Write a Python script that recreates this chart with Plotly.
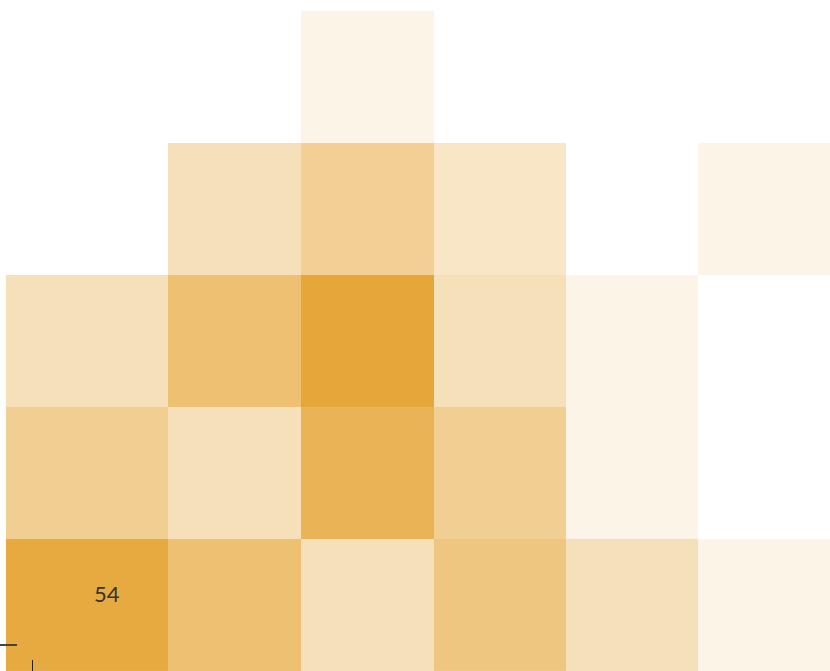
import plotly.graph_objects as go

# Bin edges of the 2-D histogram (x: columns, y: rows, bottom to top)
x_edges = [-0.2, 1.02, 2.027, 3.03, 4.02, 5.02, 6.02]
y_edges = [-0.2, 0.8, 1.8, 2.8, 3.8, 4.8]

# Counts per cell, one list per row from the bottom up; None = empty bin
row_0 = [54, 40, 20, 36, 20, 7]
row_1 = [31, 20, 48, 31, 7, None]
row_2 = [20, 40, 56, 20, 7, None]
row_3 = [None, 20, 30, 16, None, 7]
row_4 = [None, None, 7, None, None, None]
counts = [row_0, row_1, row_2, row_3, row_4]

# The one bin whose count is written on the chart
label_col, label_row = 0, 0

fig = go.Figure(
    go.Heatmap(
        x=x_edges,
        y=y_edges,
        z=counts,
        zmin=0,
        zmax=max(v for r in counts for v in r if v is not None),
        colorscale=[[0, "#ffffff"], [1, "#e6a73a"]],
        showscale=False,
        hoverongaps=False,
        hoverinfo="skip",
    )
)

fig.add_annotation(
    x=0.56,
    y=0.385,
    xref="x",
    yref="y",
    text=str(counts[label_row][label_col]),
    showarrow=False,
    font=dict(family="Lato", size=22, color="#333333"),
)

fig.update_xaxes(
    range=[-0.245, 6.015],
    showgrid=False,
    zeroline=False,
    showline=False,
    showticklabels=False,
    ticks="inside",
    ticklen=11,
    tickwidth=1,
    tickcolor="#222222",
    tickvals=[0],
)
fig.update_yaxes(
    range=[-0.2, 4.883],
    showgrid=False,
    zeroline=False,
    showline=False,
    showticklabels=False,
    ticks="inside",
    ticklen=17,
    tickwidth=2,
    tickcolor="#444444",
    tickvals=[0],
)

fig.update_layout(
    width=830,
    height=671,
    margin=dict(l=0, r=0, t=0, b=0),
    paper_bgcolor="white",
    plot_bgcolor="white",
    showlegend=False,
)

fig.write_html("out.html")
